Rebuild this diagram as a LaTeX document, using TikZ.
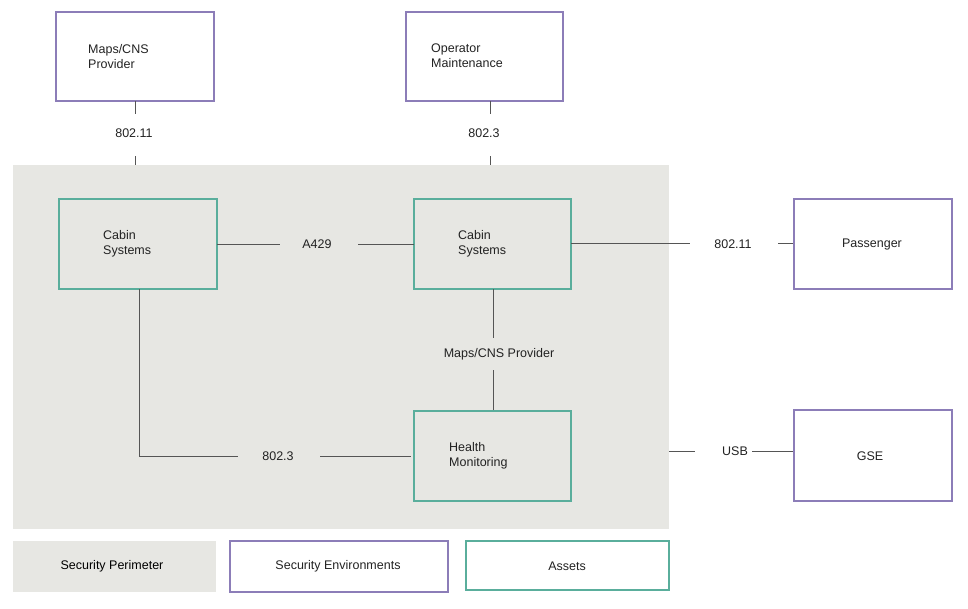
\documentclass[tikz,border=0pt]{standalone}
\usepackage{fontspec}
\setmainfont{Liberation Sans}
\begin{document}
\begin{tikzpicture}[x=1pt,y=-1pt,
  env/.style={draw=envc,line width=1.2pt},
  asset/.style={draw=assetc,line width=1.2pt},
  lbl/.style={font=\fontsize{12.5}{15}\selectfont,text=txt,inner sep=0pt},
  ln/.style={draw=linec,line width=0.7pt}]
\definecolor{envc}{HTML}{8C7DB8}
\definecolor{assetc}{HTML}{5AAE9C}
\definecolor{grey}{HTML}{E7E7E3}
\definecolor{linec}{HTML}{555555}
\definecolor{txt}{HTML}{222222}
\useasboundingbox (0,0) rectangle (968,608);
\fill[grey] (13,165) rectangle (669,529);
% top boxes
\draw[env] (56,12) rectangle (214,101);
\node[lbl,align=left,anchor=west] (maps) at (88,57) {Maps/CNS\\Provider};
\draw[env] (406,12) rectangle (563,101);
\node[lbl,align=left,anchor=west] (oper) at (431,56) {Operator\\Maintenance};
\node[lbl] (l1) at (134,133) {802.11};
\node[lbl] (l2) at (484,133) {802.3};
\draw[ln] (135,101) -- (135,114) (135,156) -- (135,165);
\draw[ln] (490,101) -- (490,114) (490,156) -- (490,165);
% cabin
\draw[asset] (59,199) rectangle (217,289);
\node[lbl,align=left,anchor=west] (cab1) at (103,244) {Cabin\\Systems};
\draw[asset] (414,199) rectangle (571,289);
\node[lbl,align=left,anchor=west] (cab2) at (458,244) {Cabin\\Systems};
\node[lbl] (a429) at (317,244) {A429};
\draw[ln] (217,244) -- (280,244) (358,244) -- (414,244);
\node[lbl] (l3) at (733,244) {802.11};
\draw[ln] (571,243) -- (690,243) (778,243) -- (794,243);
\draw[env] (794,199) rectangle (952,289);
\node[lbl] (pass) at (872,244) {Passenger};
\node[lbl] (mcp) at (499,354) {Maps/CNS Provider};
\draw[ln] (493,289) -- (493,338) (493,370) -- (493,411);
\draw[asset] (414,411) rectangle (571,501);
\node[lbl,align=left,anchor=west] (hm) at (449,456) {Health\\Monitoring};
\draw[ln] (139,289) -- (139,456) -- (238,456) (320,456) -- (411,456);
\node[lbl] (l4) at (278,456) {802.3};
\node[lbl] (usb) at (735,451) {USB};
\draw[ln] (669,451) -- (695,451) (752,451) -- (794,451);
\draw[env] (794,410) rectangle (952,501);
\node[lbl] (gse) at (870,456) {GSE};
% legend
\fill[grey] (13,541) rectangle (216,592);
\node[lbl,text=black] (lg1) at (112,566) {Security Perimeter};
\draw[env] (230,541) rectangle (448,592);
\node[lbl] (lg2) at (338,566) {Security Environments};
\draw[asset] (466,541) rectangle (669,590);
\node[lbl] (lg3) at (567,566) {Assets};
\end{tikzpicture}
\end{document}
